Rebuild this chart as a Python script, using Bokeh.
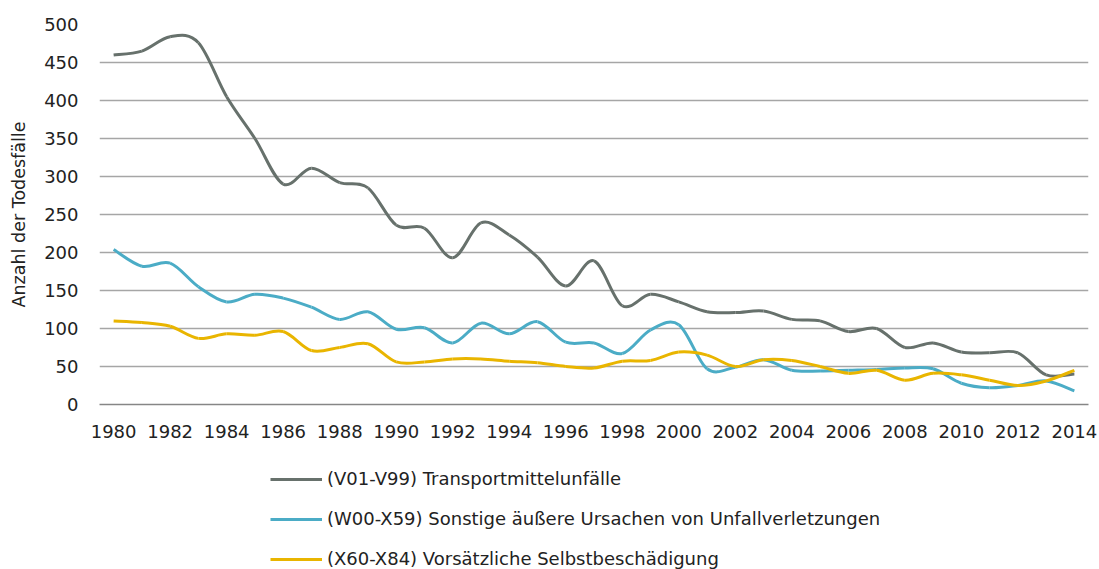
from bokeh.plotting import figure
from bokeh.models import ColumnDataSource, FixedTicker, Legend, LegendItem, Range1d
from bokeh.layouts import column
from bokeh.embed import file_html
from bokeh.resources import INLINE

years = list(range(1980, 2015))
transport = [460, 465, 484, 476, 405, 350, 290, 311, 292, 285, 236, 232, 193, 239, 223, 194, 156, 189, 130,
             145, 135, 122, 121, 123, 112, 110, 96, 100, 75, 81, 69, 68, 68, 39, 40]
sonstige = [204, 182, 186, 155, 135, 145, 140, 128, 112, 122, 99, 101, 81, 107, 93, 109, 82, 81, 67,
            98, 105, 47, 49, 59, 45, 44, 45, 46, 48, 47, 28, 22, 25, 31, 18]
selbst = [110, 108, 103, 87, 93, 91, 96, 71, 75, 80, 56, 56, 60, 60, 57, 55, 50, 48, 57,
          58, 69, 65, 50, 59, 58, 50, 41, 45, 32, 41, 39, 32, 25, 31, 45]
series_names = ["(V01-V99) Transportmittelunfälle",
                "(W00-X59) Sonstige äußere Ursachen von Unfallverletzungen",
                "(X60-X84) Vorsätzliche Selbstbeschädigung"]
series_colors = ["#67716c", "#4bacc6", "#e9b500"]
x_tick_labels = [str(y) for y in range(1980, 2015, 2)]
y_ticks = [0, 50, 100, 150, 200, 250, 300, 350, 400, 450, 500]

FONT = "DejaVu Sans"
TXT = "#222222"
FS = "18px"


def smooth_source(xs, ys):
    # cubic Bezier segments (Catmull-Rom style) between consecutive data points
    n = len(xs)
    d = dict(x0=[], y0=[], x1=[], y1=[], cx0=[], cy0=[], cx1=[], cy1=[])
    for i in range(n - 1):
        xm, ym = xs[max(i - 1, 0)], ys[max(i - 1, 0)]
        xa, ya = xs[i], ys[i]
        xb, yb = xs[i + 1], ys[i + 1]
        xp, yp = xs[min(i + 2, n - 1)], ys[min(i + 2, n - 1)]
        d["x0"].append(xa); d["y0"].append(ya)
        d["x1"].append(xb); d["y1"].append(yb)
        d["cx0"].append(xa + (xb - xm) / 6.0); d["cy0"].append(ya + (yb - ym) / 6.0)
        d["cx1"].append(xb - (xp - xa) / 6.0); d["cy1"].append(yb - (yp - ya) / 6.0)
    return ColumnDataSource(d)


# ---- main chart ----
p = figure(width=1099, height=448, output_backend="svg", toolbar_location=None,
           x_range=(1979.5, 2014.5), y_range=(0, 500),
           min_border_left=99, min_border_right=11, min_border_top=24, min_border_bottom=44)
p.outline_line_color = None
p.background_fill_color = "white"
p.border_fill_color = "white"

p.xgrid.visible = False
p.ygrid.ticker = FixedTicker(ticks=y_ticks)
p.ygrid.grid_line_color = "#a6a6a6"
p.ygrid.grid_line_width = 1.3

p.yaxis.ticker = FixedTicker(ticks=y_ticks)
p.yaxis.axis_line_color = None
p.yaxis.major_tick_line_color = None
p.yaxis.minor_tick_line_color = None
p.yaxis.major_tick_out = 0
p.yaxis.major_label_standoff = 21
p.yaxis.major_label_text_font = FONT
p.yaxis.major_label_text_font_size = FS
p.yaxis.major_label_text_color = TXT
p.yaxis.axis_label = "Anzahl der Todesfälle"
p.yaxis.axis_label_text_font = FONT
p.yaxis.axis_label_text_font_size = "17.5px"
p.yaxis.axis_label_text_font_style = "normal"
p.yaxis.axis_label_text_color = TXT
p.yaxis.axis_label_standoff = 12

tick_years = list(range(1980, 2015, 2))
p.xaxis.ticker = FixedTicker(ticks=tick_years)
p.xaxis.major_label_overrides = {t: lab for t, lab in zip(tick_years, x_tick_labels)}
p.xaxis.axis_line_color = "#868686"
p.xaxis.axis_line_width = 1.6
p.xaxis.major_tick_line_color = None
p.xaxis.minor_tick_line_color = None
p.xaxis.major_tick_out = 0
p.xaxis.major_label_standoff = 20
p.xaxis.major_label_text_font = FONT
p.xaxis.major_label_text_font_size = FS
p.xaxis.major_label_text_color = TXT

sources = []
for vals, col in zip([transport, sonstige, selbst], series_colors):
    src = smooth_source(years, vals)
    sources.append(src)
    p.bezier(x0="x0", y0="y0", x1="x1", y1="y1", cx0="cx0", cy0="cy0", cx1="cx1", cy1="cy1",
             source=src, line_color=col, line_width=3)

# ---- legend panel below the chart (same data sources; curves lie outside this panel's ranges) ----
lg = figure(width=1099, height=121, output_backend="svg", toolbar_location=None,
            x_range=Range1d(0, 1), y_range=Range1d(0, 1),
            min_border_left=0, min_border_right=0, min_border_top=0, min_border_bottom=0)
lg.axis.visible = False
lg.grid.visible = False
lg.outline_line_color = None
lg.border_fill_color = "white"

items = []
for name, col, src in zip(series_names, series_colors, sources):
    r = lg.bezier(x0="x0", y0="y0", x1="x1", y1="y1", cx0="cx0", cy0="cy0", cx1="cx1", cy1="cy1",
                  source=src, line_color=col, line_width=3)
    items.append(LegendItem(label=name, renderers=[r]))

legend = Legend(items=items, location=(171, 0), orientation="vertical",
                padding=0, margin=0, spacing=19, label_standoff=5,
                glyph_width=52, glyph_height=20, label_height=20,
                label_text_font=FONT, label_text_font_size=FS, label_text_color=TXT,
                border_line_color=None, background_fill_alpha=0)
lg.add_layout(legend, "center")

layout = column(p, lg, spacing=0)
open("out.html", "w").write(file_html(layout, INLINE))
